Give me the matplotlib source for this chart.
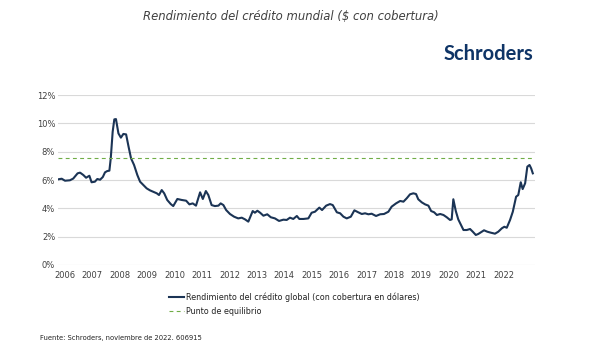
import matplotlib
matplotlib.use("Agg")
import matplotlib.pyplot as plt

# global credit yield (USD hedged)
years = [2005.76, 2005.88, 2006.00, 2006.18, 2006.30, 2006.46, 2006.55, 2006.67, 2006.77, 2006.89,
         2006.97, 2007.09, 2007.18, 2007.28, 2007.38, 2007.46, 2007.54, 2007.62, 2007.67, 2007.74,
         2007.80, 2007.86, 2007.95, 2008.04, 2008.13, 2008.23, 2008.32, 2008.41, 2008.52, 2008.64,
         2008.74, 2008.86, 2008.98, 2009.10, 2009.22, 2009.35, 2009.43, 2009.53, 2009.62, 2009.73,
         2009.86, 2009.95, 2010.10, 2010.26, 2010.42, 2010.54, 2010.66, 2010.78, 2010.93, 2011.03,
         2011.14, 2011.23, 2011.35, 2011.47, 2011.60, 2011.68, 2011.78, 2011.88, 2012.02, 2012.17,
         2012.32, 2012.45, 2012.57, 2012.69, 2012.85, 2012.93, 2013.02, 2013.12, 2013.24, 2013.38,
         2013.51, 2013.66, 2013.81, 2013.97, 2014.09, 2014.21, 2014.33, 2014.46, 2014.55, 2014.70,
         2014.88, 2015.00, 2015.12, 2015.28, 2015.38, 2015.53, 2015.67, 2015.77, 2015.92, 2016.04,
         2016.16, 2016.28, 2016.43, 2016.56, 2016.70, 2016.83, 2016.95, 2017.07, 2017.19, 2017.35,
         2017.50, 2017.64, 2017.80, 2017.92, 2018.08, 2018.23, 2018.35, 2018.47, 2018.59, 2018.71,
         2018.81, 2018.89, 2019.02, 2019.14, 2019.26, 2019.36, 2019.47, 2019.57, 2019.69, 2019.81,
         2019.93, 2020.05, 2020.11, 2020.17, 2020.26, 2020.35, 2020.44, 2020.54, 2020.66, 2020.78,
         2020.88, 2020.99, 2021.08, 2021.18, 2021.29, 2021.41, 2021.54, 2021.69, 2021.81, 2021.94,
         2022.03, 2022.12, 2022.24, 2022.34, 2022.46, 2022.54, 2022.63, 2022.70, 2022.79, 2022.87,
         2022.95, 2023.01, 2023.07]
yields = [6.05, 6.09, 5.95, 5.98, 6.10, 6.47, 6.52, 6.35, 6.16, 6.30,
          5.84, 5.88, 6.07, 6.02, 6.21, 6.54, 6.63, 6.66, 7.53, 9.41,
          10.28, 10.30, 9.29, 8.99, 9.25, 9.22, 8.35, 7.53, 7.06, 6.35,
          5.88, 5.65, 5.41, 5.27, 5.17, 5.06, 4.94, 5.29, 5.06, 4.59,
          4.30, 4.16, 4.66, 4.59, 4.54, 4.28, 4.35, 4.19, 5.13, 4.66,
          5.22, 4.94, 4.23, 4.16, 4.19, 4.35, 4.23, 3.88, 3.60, 3.41,
          3.29, 3.34, 3.22, 3.06, 3.81, 3.69, 3.83, 3.69, 3.48, 3.58,
          3.37, 3.29, 3.11, 3.20, 3.18, 3.34, 3.25, 3.46, 3.25, 3.25,
          3.29, 3.69, 3.76, 4.05, 3.88, 4.19, 4.30, 4.23, 3.72, 3.65,
          3.41, 3.29, 3.41, 3.86, 3.72, 3.60, 3.65, 3.58, 3.62, 3.46,
          3.58, 3.60, 3.76, 4.12, 4.35, 4.52, 4.47, 4.71, 4.99, 5.06,
          5.01, 4.64, 4.42, 4.28, 4.19, 3.81, 3.72, 3.53, 3.60, 3.53,
          3.37, 3.18, 3.22, 4.64, 3.81, 3.22, 2.87, 2.47, 2.47, 2.54,
          2.35, 2.12, 2.19, 2.31, 2.45, 2.35, 2.28, 2.21, 2.35, 2.59,
          2.70, 2.63, 3.18, 3.76, 4.82, 4.94, 5.84, 5.36, 5.77, 6.94,
          7.06, 6.82, 6.47]
breakeven = 7.53
year_ticks = list(range(2006, 2023))
pct_ticks = [0, 2, 4, 6, 8, 10, 12]

navy = "#1b3455"
green = "#70ad47"
grey_txt = "#404040"

fig = plt.figure(figsize=(5.9, 3.55), dpi=100)
ax = fig.add_axes([58 / 590, 90 / 355, 477 / 590, 170 / 355])

ax.plot(years, yields, color=navy, lw=1.5, solid_joinstyle="round",
        label="Rendimiento del crédito global (con cobertura en dólares)")
ax.axhline(breakeven, color=green, lw=0.8, ls=(0, (3.5, 3)),
           label="Punto de equilibrio")

ax.set_xlim(2005.745, 2023.15)
ax.set_ylim(0, 12)
ax.set_yticks(pct_ticks)
ax.set_yticklabels([f"{v}%" for v in pct_ticks])
ax.set_xticks(year_ticks)
ax.set_xticklabels([str(y) for y in year_ticks])
ax.tick_params(length=0, labelsize=6, colors=grey_txt)
ax.tick_params(axis="y", pad=2)
ax.tick_params(axis="x", pad=4)
ax.grid(axis="y", color="#d9d9d9", lw=0.8)
ax.set_axisbelow(True)
for s in ax.spines.values():
    s.set_visible(False)

fig.legend(loc="upper left", bbox_to_anchor=(169 / 590, 1 - 292 / 355),
           frameon=False, fontsize=5.8, handlelength=1.8, handletextpad=0.3,
           labelspacing=0.7, borderaxespad=0, borderpad=0, labelcolor="#222222")

fig.text(291 / 590, 1 - 16 / 355, "Rendimiento del crédito mundial ($ con cobertura)",
         ha="center", va="center", fontsize=8.4, style="italic", color=grey_txt)
fig.text(533 / 590, 1 - 54 / 355, "Schroders", ha="right", va="center",
         fontsize=14.5, fontweight="bold", family="Lato", color="#0e3466")
fig.text(40 / 590, 1 - 338 / 355, "Fuente: Schroders, noviembre de 2022. 606915",
         ha="left", va="center", fontsize=4.9, color="#222222")

fig.savefig("out.png", dpi=100)
